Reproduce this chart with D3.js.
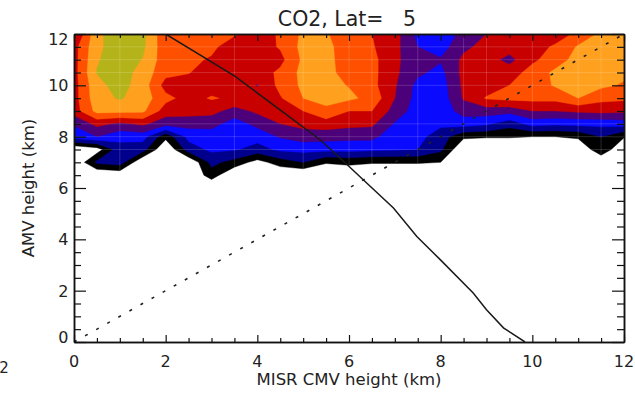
<!DOCTYPE html>
<html>
<head>
<meta charset="utf-8">
<script src="https://cdn.jsdelivr.net/npm/d3@7/dist/d3.min.js"></script>
<style>
  html, body { margin: 0; padding: 0; background: #fff; }
  svg { display: block; font-family: "DejaVu Sans", "Liberation Sans", sans-serif; }
  text { white-space: pre; }
</style>
</head>
<body>
<svg id="chart" width="635" height="396"></svg>
<script>
// ---- grid nodes (km) ----
const xNodes = [0, 0.5, 1, 1.5, 2, 2.5, 3, 3.5, 4, 4.5, 5, 5.5, 6, 6.5, 7, 7.5, 8, 8.5, 9, 9.5, 10, 10.5, 11, 11.5, 12];
const yNodes = [12, 11.5, 11, 10.5, 10, 9.5, 9, 8.5, 8, 7.5, 7, 6.5, 6];

// ---- gridded field, one row per AMV height (top row = 12 km) ----
const row120 = [4.8, 7.75, 8.6, 8.3, 6.2, 6.3, 6.3, 6.1, 5.6, 6.1, 7.2, 7.1, 6.3, 6.0, 5.4, 3.7, 3.4, 4.3, 5.0, 5.5, 5.3, 5.3, 6.3, 7.2, 7.3];
const row115 = [5.6, 7.75, 8.6, 8.2, 6.3, 6.3, 6.2, 5.5, 5.5, 6.1, 7.3, 7.3, 6.4, 6.1, 5.3, 4.0, 3.5, 4.8, 5.3, 5.4, 5.4, 6.2, 7.1, 7.4, 7.3];
const row110 = [5.6, 7.9, 8.6, 7.95, 6.4, 6.2, 5.9, 5.5, 5.4, 5.7, 7.2, 7.3, 6.5, 6.3, 5.2, 4.4, 4.1, 5.2, 5.4, 4.7, 5.8, 6.5, 7.4, 7.4, 7.3];
const row105 = [5.6, 8.05, 8.5, 7.6, 6.3, 6.05, 5.5, 5.6, 5.5, 6.2, 7.3, 7.3, 6.6, 6.3, 5.2, 4.2, 3.7, 5.3, 5.4, 5.5, 6.4, 7.2, 7.4, 7.4, 7.2];
const row100 = [5.6, 7.7, 8.4, 7.5, 5.6, 5.5, 5.5, 5.5, 4.94, 6.3, 7.2, 7.3, 6.95, 6.3, 5.1, 3.7, 3.5, 5.2, 5.4, 6.0, 6.5, 7.1, 7.3, 7.2, 6.9];
const row095 = [5.6, 7.6, 8.1, 7.5, 6.3, 5.6, 6.1, 5.8, 5.5, 5.9, 7.0, 7.3, 7.2, 6.7, 5.0, 3.6, 3.4, 5.1, 6.1, 6.3, 6.3, 6.3, 7.0, 6.3, 6.2];
const row090 = [5.5, 7.3, 7.3, 7.2, 5.5, 5.4, 5.3, 4.6, 5.2, 5.4, 6.0, 6.8, 6.0, 6.0, 4.6, 3.5, 3.4, 4.4, 4.5, 4.4, 5.0, 5.0, 5.2, 5.3, 5.2];
const row085 = [4.1, 5.3, 4.8, 5.2, 4.4, 4.4, 4.4, 3.5, 4.3, 5.0, 5.3, 5.5, 5.3, 5.2, 3.9, 3.5, 3.2, 3.5, 3.2, 2.4, 3.4, 3.2, 3.3, 3.3, 3.5];
const row080 = [3.5, 4.0, 3.3, 3.4, 1.3, 3.3, 3.4, 3.4, 3.4, 4.1, 4.5, 4.4, 4.3, 4.3, 3.3, 3.3, 2.5, 1.2, 1.1, 1.1, 1.0, 1.0, 1.2, 2.0, 1.1];
const row075 = [0, 0.5, 2.6, 2.4, 0, 2.5, 3.2, 3.1, 2.6, 3.2, 3.3, 3.3, 3.3, 3.2, 3.1, 3.0, 2.2, 0, 0, 0, 0, 0, 0, 1.8, 0];
const row070 = [0, 2.2, 2.5, 0, 0, 0, 2.3, 1.6, 0.6, 1.5, 2.0, 1.1, 1.3, 1.1, 1.1, 1.1, 1.0, 0, 0, 0, 0, 0, 0, 0, 0];
const row065 = [0, 0, 0.2, 0, 0, 0, 1.5, 0, 0, 0, 0, 0, 0, 0, 0, 0, 0, 0, 0, 0, 0, 0, 0, 0, 0];
const row060 = [0, 0, 0, 0, 0, 0, 0, 0, 0, 0, 0, 0, 0, 0, 0, 0, 0, 0, 0, 0, 0, 0, 0, 0, 0];
const fieldRows = [row120, row115, row110, row105, row100, row095, row090, row085, row080, row075, row070, row065, row060];

// ---- contour levels and fill colours ----
const levels = [1, 2, 3, 4, 5, 6, 7, 8];
const levelColors = ["#000000", "#00008c", "#0a0aff", "#4c0079", "#c80000", "#ff5000", "#ffa01e", "#b4b41a"];

// ---- overlaid reference curves ----
const profileX = [2.0, 3.5, 5.37, 5.88, 6.31, 6.97, 7.48, 7.99, 8.71, 9.0, 9.37, 9.84];
const profileY = [12.0, 10.37, 7.88, 7.04, 6.32, 5.22, 4.11, 3.21, 1.91, 1.26, 0.55, 0.0];
const diagX = [0, 12];
const diagY = [0, 12];

// ---- axes ----
const majorTicks = [0, 2, 4, 6, 8, 10, 12];
const minorTicks = [0.5, 1, 1.5, 2.5, 3, 3.5, 4.5, 5, 5.5, 6.5, 7, 7.5, 8.5, 9, 9.5, 10.5, 11, 11.5];
const tickLabels = ["0", "2", "4", "6", "8", "10", "12"];
const seamX = [1, 3.5, 5, 6, 6.5, 7.5, 8.5, 9, 10, 11, 11.5];
const seamY = [11.5, 11, 10.5, 10, 8.5, 8, 7.5];

const titleText = "CO2, Lat=   5";
const xTitle = "MISR CMV height (km)";
const yTitle = "AMV height (km)";

// ---- layout ----
const plot = { left: 74, right: 624, top: 34, bottom: 342 };
const x = d3.scaleLinear().domain([0, 12]).range([plot.left, plot.right]);
const y = d3.scaleLinear().domain([0, 12]).range([plot.bottom, plot.top]);

const svg = d3.select("#chart");

svg.append("defs").append("clipPath").attr("id", "plotClip")
  .append("rect")
  .attr("x", plot.left).attr("y", plot.top)
  .attr("width", plot.right - plot.left).attr("height", plot.bottom - plot.top);

// ---- filled contours ----
const nx = xNodes.length, ny = yNodes.length;
const values = fieldRows.flat();
const gx = d3.scaleLinear().domain([0.5, nx - 0.5]).range([xNodes[0], xNodes[nx - 1]]);
const gy = d3.scaleLinear().domain([0.5, ny - 0.5]).range([yNodes[0], yNodes[ny - 1]]);
const gridPath = d3.geoPath(d3.geoTransform({
  point(px, py) { this.stream.point(x(gx(px)), y(gy(py))); }
}));
const bands = d3.contours().size([nx, ny]).thresholds(levels)(values);
const color = d3.scaleOrdinal().domain(levels).range(levelColors);

const plotG = svg.append("g").attr("clip-path", "url(#plotClip)");
plotG.selectAll("path.band")
  .data(bands)
  .join("path")
  .attr("class", "band")
  .attr("d", gridPath)
  .attr("fill", d => color(d.value))
  .attr("stroke", d => color(d.value))
  .attr("stroke-width", 0.4);

// faint cell seams in the filled field
plotG.selectAll("line.seamx").data(seamX).join("line")
  .attr("x1", d => x(d)).attr("x2", d => x(d))
  .attr("y1", plot.top).attr("y2", plot.bottom)
  .attr("stroke", "#ffffff").attr("stroke-opacity", 0.16).attr("stroke-width", 1);
plotG.selectAll("line.seamy").data(seamY).join("line")
  .attr("y1", d => y(d)).attr("y2", d => y(d))
  .attr("x1", plot.left).attr("x2", plot.right)
  .attr("stroke", "#ffffff").attr("stroke-opacity", 0.16).attr("stroke-width", 1);

// 1:1 dotted line
const line = d3.line().x(d => x(d[0])).y(d => y(d[1]));
plotG.append("path")
  .attr("d", line(d3.zip(diagX, diagY)))
  .attr("fill", "none").attr("stroke", "#222")
  .attr("stroke-width", 1.6).attr("stroke-dasharray", "3,9.7");

// solid profile curve
plotG.append("path")
  .attr("d", line(d3.zip(profileX, profileY)))
  .attr("fill", "none").attr("stroke", "#1a1a1a").attr("stroke-width", 1.5);

// ---- axes box with inward ticks ----
const axisColor = "#111";
function drawAxis(axis, transform) {
  const g = svg.append("g").attr("transform", transform).call(axis);
  g.select(".domain").attr("stroke", axisColor).attr("stroke-width", 1.5);
  g.selectAll(".tick line").attr("stroke", axisColor).attr("stroke-width", 1.2);
  g.selectAll(".tick text").remove();
  return g;
}
drawAxis(d3.axisBottom(x).tickValues(majorTicks).tickSize(-7).tickSizeOuter(0), `translate(0,${plot.bottom})`);
drawAxis(d3.axisBottom(x).tickValues(minorTicks).tickSize(-4).tickSizeOuter(0), `translate(0,${plot.bottom})`);
drawAxis(d3.axisTop(x).tickValues(majorTicks).tickSize(-7).tickSizeOuter(0), `translate(0,${plot.top})`);
drawAxis(d3.axisTop(x).tickValues(minorTicks).tickSize(-4).tickSizeOuter(0), `translate(0,${plot.top})`);
drawAxis(d3.axisLeft(y).tickValues(majorTicks).tickSize(-12).tickSizeOuter(0), `translate(${plot.left},0)`);
drawAxis(d3.axisLeft(y).tickValues(minorTicks).tickSize(-7).tickSizeOuter(0), `translate(${plot.left},0)`);
drawAxis(d3.axisRight(y).tickValues(majorTicks).tickSize(-12).tickSizeOuter(0), `translate(${plot.right},0)`);
drawAxis(d3.axisRight(y).tickValues(minorTicks).tickSize(-7).tickSizeOuter(0), `translate(${plot.right},0)`);

// ---- tick labels ----
const labelColor = "#222";
svg.append("g").selectAll("text").data(majorTicks).join("text")
  .attr("x", d => x(d)).attr("y", plot.bottom + 25)
  .attr("text-anchor", "middle").attr("font-size", 16).attr("fill", labelColor)
  .text((d, i) => tickLabels[i]);

svg.append("g").selectAll("text").data(majorTicks).join("text")
  .attr("x", plot.left - 5.5)
  .attr("y", d => Math.min(Math.max(y(d), plot.top + 5.4), plot.bottom - 4.8) + 5.9)
  .attr("text-anchor", "end").attr("font-size", 16).attr("fill", labelColor)
  .text((d, i) => tickLabels[i]);

// ---- titles ----
svg.append("text")
  .attr("x", (plot.left + plot.right) / 2 - 2).attr("y", 25.5)
  .attr("text-anchor", "middle").attr("font-size", 20.5).attr("fill", labelColor)
  .attr("xml:space", "preserve")
  .text(titleText);

svg.append("text")
  .attr("x", (plot.left + plot.right) / 2).attr("y", 385)
  .attr("text-anchor", "middle").attr("font-size", 16.5).attr("fill", labelColor)
  .text(xTitle);

svg.append("text")
  .attr("transform", `translate(33.5,${(plot.top + plot.bottom) / 2}) rotate(-90)`)
  .attr("text-anchor", "middle").attr("font-size", 16.5).attr("fill", labelColor)
  .text(yTitle);

// label of the neighbouring panel at the left page edge
svg.append("text")
  .attr("x", -0.8).attr("y", 373.3)
  .attr("font-size", 15).attr("fill", labelColor)
  .text("2");
</script>
</body>
</html>
